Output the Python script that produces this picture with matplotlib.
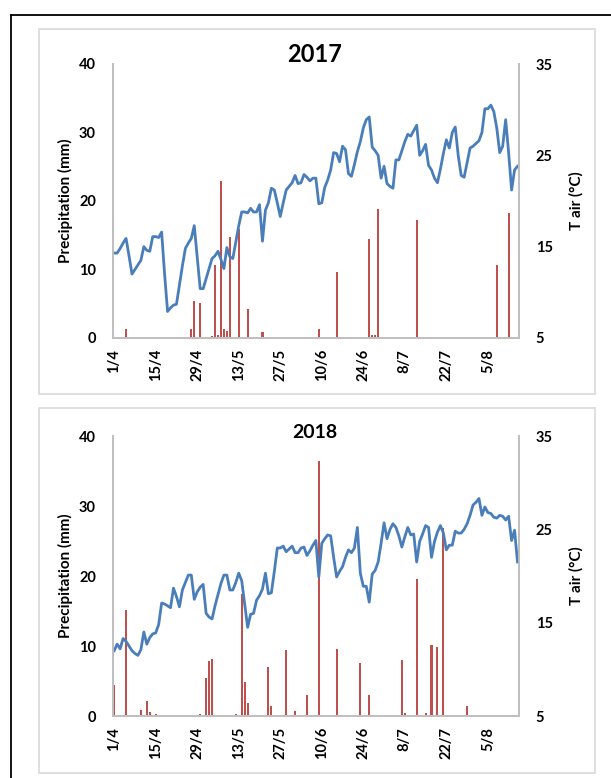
import numpy as np
import matplotlib.pyplot as plt
from matplotlib.patches import Rectangle
from matplotlib.lines import Line2D

plt.rcParams['font.family'] = ['Lato', 'DejaVu Sans']

# daily categories 1/4 .. 15/8 (137 days), labels every 14 days
tick_pos = [0, 14, 28, 42, 56, 70, 84, 98, 112, 126]
tick_labels = ['1/4', '15/4', '29/4', '13/5', '27/5', '10/6', '24/6', '8/7', '22/7', '5/8']
n_days = 137

# precipitation (mm): day index -> value, all other days 0
rain17_days = [4, 5, 26, 27, 29, 31, 33, 34, 35, 36, 37, 38, 39, 42, 45, 50, 69, 75, 76,
               86, 87, 88, 89, 102, 129, 133]
rain17_mm = [1.3, 0.2, 1.3, 5.4, 5.1, 0.2, 0.3, 10.7, 0.4, 22.9, 1.3, 1.0, 14.8, 15.9, 4.3,
             0.9, 1.3, 9.6, 0.2, 14.5, 0.5, 0.5, 18.8, 17.2, 10.7, 18.2]

rain18_days = [0, 4, 5, 9, 11, 12, 14, 23, 29, 31, 32, 33, 34, 39, 41, 43, 44, 45, 52, 53,
               58, 61, 65, 69, 75, 83, 86, 97, 98, 99, 102, 105, 107, 109, 111, 113, 119]
rain18_mm = [4.4, 15.2, 0.2, 0.8, 2.1, 0.6, 0.3, 0.2, 0.3, 5.4, 7.8, 8.1, 0.2, 0.2, 0.3,
             17.5, 4.9, 1.9, 7.0, 1.4, 9.4, 0.7, 3.0, 36.5, 9.6, 7.6, 3.0, 8.0, 0.4, 0.2,
             19.6, 0.5, 10.1, 9.9, 26.8, 0.2, 1.5]

# daily air temperature (°C)
tair17 = [14.3, 14.3, 14.8, 15.4, 15.9, 14.0, 12.0, 12.5, 13.0, 13.5,
          15.0, 14.6, 14.5, 16.1, 16.1, 16.0, 16.6, 12.0, 7.9, 8.3,
          8.6, 8.7, 10.8, 12.9, 14.8, 15.4, 15.9, 17.3, 13.8, 10.4,
          10.4, 11.5, 12.6, 13.7, 14.0, 14.5, 13.6, 12.6, 14.9, 13.9,
          13.7, 15.5, 17.3, 18.8, 18.8, 18.7, 19.2, 18.8, 18.8, 19.6,
          15.6, 19.0, 19.8, 21.4, 21.2, 19.8, 18.3, 19.8, 21.2, 21.6,
          22.0, 22.8, 21.9, 22.0, 22.9, 22.6, 22.2, 22.5, 22.5, 19.7,
          19.8, 21.5, 22.3, 23.4, 25.3, 25.2, 24.3, 26.0, 25.6, 23.0,
          22.7, 24.0, 25.4, 26.5, 28.0, 28.9, 29.2, 25.9, 25.5, 25.0,
          22.5, 23.8, 21.9, 21.6, 21.4, 24.5, 24.5, 25.5, 26.5, 27.3,
          27.1, 27.7, 28.3, 25.0, 25.5, 26.2, 23.9, 23.4, 22.5, 22.0,
          23.5, 25.2, 26.7, 25.8, 27.5, 28.1, 25.0, 22.8, 22.6, 24.2,
          25.8, 26.0, 26.3, 26.6, 27.5, 30.1, 30.1, 30.5, 29.8, 28.0,
          25.3, 26.0, 28.9, 25.3, 21.2, 23.4, 23.8]

tair18 = [12.0, 12.7, 12.2, 13.3, 13.0, 12.5, 12.0, 11.7, 11.5, 12.1,
          14.0, 12.7, 13.4, 13.8, 13.9, 14.8, 17.1, 17.0, 16.8, 16.6,
          18.7, 17.8, 16.7, 18.5, 19.3, 20.1, 20.1, 17.5, 18.3, 18.8,
          19.1, 16.0, 15.6, 15.4, 16.8, 18.0, 19.2, 20.1, 20.1, 18.5,
          18.5, 19.3, 20.3, 19.5, 17.0, 14.5, 15.9, 16.0, 17.4, 17.9,
          18.6, 20.3, 18.1, 18.2, 20.5, 23.0, 23.0, 23.2, 22.6, 22.9,
          23.2, 22.5, 22.5, 23.0, 23.1, 22.2, 22.7, 23.3, 23.8, 19.9,
          23.5, 24.0, 24.4, 24.3, 22.0, 19.9, 20.5, 21.0, 22.0, 22.8,
          22.5, 23.0, 25.2, 20.3, 18.9, 18.9, 17.2, 20.2, 20.6, 21.5,
          23.5, 25.7, 24.0, 25.0, 25.6, 25.2, 24.3, 23.1, 24.2, 25.2,
          24.4, 24.5, 21.5, 23.7, 24.5, 25.4, 25.2, 22.0, 23.7, 24.7,
          25.4, 24.6, 22.8, 23.3, 23.3, 24.8, 24.6, 24.6, 25.0, 25.6,
          26.5, 27.6, 27.9, 28.3, 26.5, 27.4, 26.8, 26.7, 26.3, 26.2,
          26.5, 26.4, 26.0, 26.4, 23.8, 24.9, 21.5]

W, H = 611, 778
fig = plt.figure(figsize=(W / 100, H / 100), dpi=100)

# outer black frame (left and top) and the two light chart boxes
fig.add_artist(Line2D([11 / W, 11 / W], [0, 1 - 15 / H], color='black', lw=1.3))
fig.add_artist(Line2D([11 / W, 1], [1 - 15 / H, 1 - 15 / H], color='black', lw=1.3))
for top, bot in [(29, 394), (408, 773)]:
    fig.add_artist(Rectangle((39 / W, 1 - bot / H), (595 - 39) / W, (bot - top) / H,
                             fill=False, edgecolor='#D9D9D9', lw=1.2))

grey = '#BFBFBF'
blue = '#4A7EBB'
red = '#C0504D'


def panel(rect, year, fsize, days, mm, tair, title_y):
    ax = fig.add_axes(rect)
    rain = np.zeros(n_days)
    rain[days] = mm
    x = np.arange(n_days)
    ax.bar(x, rain, width=0.7, color=red, zorder=2)
    ax.set_xlim(-0.5, n_days - 0.5)
    ax.set_ylim(0, 40)
    ax.set_yticks([0, 10, 20, 30, 40])
    ax.set_xticks(tick_pos)
    ax.set_xticklabels(tick_labels, rotation=90, fontweight='bold', fontsize=10.5)
    for lab in ax.get_yticklabels():
        lab.set_fontweight('bold')
        lab.set_fontsize(10.5)
    ax.tick_params(length=0, pad=12)
    ax.tick_params(axis='x', pad=8)
    ax.set_ylabel('Precipitation (mm)', fontweight='bold', fontsize=11, labelpad=4)

    ax2 = ax.twinx()
    ax2.plot(x, tair, color=blue, lw=2.0)
    ax2.set_ylim(5, 35)
    ax2.set_yticks([5, 15, 25, 35])
    for lab in ax2.get_yticklabels():
        lab.set_fontweight('bold')
        lab.set_fontsize(10.5)
    ax2.tick_params(length=0, pad=12)
    ax2.set_ylabel('T air (°C)', fontweight='bold', fontsize=11, labelpad=12)

    for a in (ax, ax2):
        a.spines['top'].set_visible(False)
        for s in ('left', 'right', 'bottom'):
            a.spines[s].set_color(grey)
            a.spines[s].set_linewidth(1.3)
    fig.text(0.515, 1 - title_y / H, year, ha='center', va='center',
             fontweight='bold', fontsize=fsize)
    return ax


panel([112.7 / W, 440 / H, (519 - 112.7) / W, 274 / H], '2017', 17,
      rain17_days, rain17_mm, tair17, 54)
panel([112.7 / W, 62 / H, (519 - 112.7) / W, 280 / H], '2018', 14,
      rain18_days, rain18_mm, tair18, 432)

fig.savefig('out.png', dpi=100)
